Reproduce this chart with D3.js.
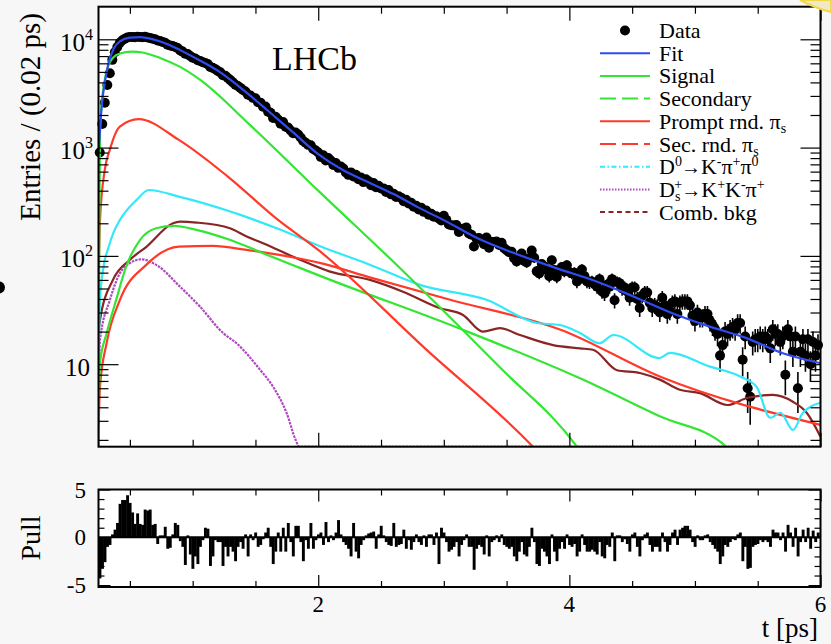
<!DOCTYPE html>
<html lang="en">

<head>
  <meta charset="UTF-8" />
  <title>LHCb - decay time fit</title>
  <script src="https://d3js.org/d3.v7.min.js"></script>
  <style>
    body {
      margin: 0;
      background: #f7f7f7;
    }

    svg {
      display: block;
      font-family: "Liberation Serif", "DejaVu Serif", serif;
    }
  </style>
</head>

<body>
  <svg id="chart" width="831" height="644"></svg>

  <script>
    // Histogram binning (t in ps)
    const tMin = 0.25, tMax = 6.0, binWidth = 0.02;

    // Data entries per 0.02 ps bin, first bin centre 0.26 ps
    const dataCounts = [
      900, 1650, 2590, 3790, 4860, 6460, 7600, 8500, 9300, 9800,
      10100, 10400, 10500, 10500, 10450, 10550, 10500, 10450, 10550, 10400,
      10300, 10100, 10000, 9750, 9650, 9450, 9300, 8900, 8750, 8650,
      8500, 8300, 7900, 7700, 7350, 7300, 7000, 6750, 6650, 6400,
      6300, 6150, 6050, 5900, 5550, 5450, 5300, 5100, 4950, 4650,
      4600, 4400, 4200, 4000, 3800, 3700, 3560, 3400, 3300, 3080,
      3030, 2880, 2850, 2620, 2600, 2380, 2400, 2150, 2100, 1880,
      1930, 1820, 1660, 1720, 1560, 1530, 1440, 1360, 1380, 1320,
      1240, 1150, 1110, 1060, 1050, 970, 940, 900, 820, 850,
      760, 800, 760, 690, 720, 650, 670, 640, 590, 560,
      590, 540, 560, 510, 530, 480, 510, 490, 450, 470,
      430, 445, 420, 420, 390, 405, 370, 375, 350, 355,
      345, 320, 330, 305, 310, 285, 290, 268, 278, 255,
      262, 240, 245, 230, 232, 222, 212,
      235, 215, 195, 192, 191, 193, 166, 177, 179, 183,
      161, 157, 122, 145, 146, 140, 128, 148, 119, 134,
      134, 136, 126, 132, 118, 113, 108, 109, 95, 89,
      97, 105, 90, 87, 95, 112, 96, 72, 69, 84,
      80, 74, 65, 91, 74, 64, 74, 79, 72, 82,
      71, 69, 70, 58, 61, 75, 65, 58, 57, 58,
      55, 52, 61, 47, 45, 54, 52, 61, 39, 57,
      56, 50, 51, 47, 41, 51, 51, 40, 33, 43,
      46, 46, 37, 33, 35, 34, 30, 41, 35, 29,
      31, 37, 38, 29, 37, 38, 38, 38, 35, 28,
      25, 30, 27, 27, 29, 29, 25, 23, 21, 19,
      12, 15, 20, 19, 21, 22, 21, 24, 24, 11,
      18, 6, 5, 16, 17, 17, 18, 17, 18, 17,
      14, 21, 19, 19, 16, 18, 8, 21, 18, 13,
      18, 6, 13, 17, 12, 17, 10, 16, 12, 15
    ];

    // Pull per bin (same binning)
    const pullValues = [
      -4.3, -3.3, -2.6, -1.0, -0.8, 0.3, 0.8, 1.5, 3.5, 3.9,
      3.9, 4.4, 3.6, 2.6, 1.4, 2.5, 1.4, 1.3, 2.9, 2.8,
      2.9, 1.3, 1.4, -0.7, 0.2, 0.2, 1.1, -1.2, -1.1, 0.3,
      1.5, 1.3, -0.4, -1.0, -2.9, 0.2, -1.8, -3.3, -2.0, -2.8,
      -1.0, -0.3, 1.0, 0.9, -3.0, -2.0, -0.3, -0.5, -0.5, -3.0,
      -1.0, -2.0, -1.0, -1.5, -2.5, -1.0, -0.5, -1.2, 0.3, -2.0,
      0.3, -0.3, 0.5, -1.0, -0.8, -0.2, 0.5, 1.0, -1.0, -2.8,
      -1.5, 0.5, -1.5, 1.0, -1.5, 1.5, -0.5, -2.0, 1.2, 1.2,
      -0.5, -2.5, -0.3, -1.2, 1.5, -1.2, -0.3, 0.3,
      0.5, -0.8, 1.6, -0.5,
      0.2, -0.3, 0.5, 1.8, 0.3, -0.5, -0.8, -1.2, -2.0, 1.5,
      -1.5, -2.2, -0.8, -0.3, 0.2, 0.4, 0.5, 0.6, -1.2, 0.3,
      1.2, 0.2, -0.5, -0.8, -0.9, 1.5, -1.0, -0.8, -0.7, 0.8,
      -1.2, -0.3, -1.3, -0.5, 0.3, -0.5, -0.8, 0.2, -1.0, 0.3,
      0.3, -0.8, 0.5, -2.8, 1.0, 0.5, -0.5, -1.5, -1.3, -1.0,
      -0.5, -2.0, -0.8, -0.3, 0.3, -1.0, -1.0, -3.4, -1.2, -0.8,
      -1.0, -1.8, 0.2, -2.0, -0.5, -0.3, 0.2, -0.5, 0.3, -0.8,
      -1.0, -1.2, -1.0, -2.0, -2.5, -1.5, -0.5, -1.8, -2.0, -1.0,
      1.0, -0.5, -2.8, -3.0, -1.2, -1.5, -2.0, -2.8, 0.3, -1.5,
      -2.5, -1.2,
      -0.5, -1.2, 0.3, -0.8,
      -1.0, -0.7, -2.0, -1.5, 0.3, -0.8, -1.5, -1.5, -1.3, -1.5,
      -1.8, -0.5, -2.0, -2.2, -0.8, -1.0, 0.5, -2.5, 0.2, 0.2,
      -0.5, -0.2, -0.7, -1.5, 0.3, 0.5, -1.0, -2.0, -0.3, 0.3,
      0.5, -0.8, -1.5, -1.0, -1.0, -1.5, 0.5, -0.5, -1.5, -0.8,
      0.5, 0.8, -0.8, 0.8, 1.0, 1.2, 1.2, 0.8, -0.5, -1.0,
      0.2, -0.3, -0.3, 0.2, 0.3, -0.5, -0.8, -1.2, -1.5, -2.8,
      -2.0, -0.8, -1.0, -0.5, -0.2, -0.3, 0.3, 0.5, -2.5, -1.0,
      -3.3, -3.2, -1.0, -0.8, -0.7, -0.3, -0.5, -0.3, -0.5, -1.0,
      0.8, 0.5, 0.5, -0.3, 0.5, -1.5, 1.3, 0.5, -1.0, 1.0,
      -2.0, -0.5, 0.8, -0.5, 1.0, -1.2, 0.7, -0.5,
      0.5
    ];

    // Fit model and its components, read at knots (t [ps], entries)
    const fitTimes = [0.25, 0.26, 0.27, 0.28, 0.30, 0.33, 0.37, 0.42, 0.50, 0.58, 0.70, 0.80, 0.90, 1.0, 1.2, 1.4, 1.6, 1.8, 2.0, 2.2, 2.4, 2.6, 2.8, 3.0, 3.3, 3.6, 3.9, 4.2, 4.5, 4.8, 5.1, 5.4, 5.7, 6.0];
    const fitValues = [891, 1349, 1995, 2692, 3981, 6026, 8128, 9550, 10350, 10470, 9890, 9016, 7943, 6918, 5129, 3428, 2188, 1380, 871, 617, 479, 372, 279, 214, 140, 102, 76.7, 58.9, 42.7, 30.2, 22.6, 17.6, 12.6, 10.2];

    const signalTimes = [0.25, 0.256, 0.262, 0.28, 0.30, 0.33, 0.366, 0.42, 0.517, 0.60, 0.74, 0.90, 1.06, 1.46, 2.01, 2.65, 3.45, 4.06, 4.2];
    const signalValues = [1.2, 150, 1370, 2900, 4220, 5800, 6760, 7400, 7690, 7550, 6730, 5560, 4220, 1603, 390, 77.4, 9.25, 1.73, 1.0];

    const secondaryTimes = [0.25, 0.262, 0.315, 0.39, 0.47, 0.58, 0.71, 0.85, 1.03, 1.30, 1.56, 1.83, 2.05, 3.15, 4.085, 4.72, 5.25, 5.4];
    const secondaryValues = [3, 10.3, 19.3, 39, 79.5, 140, 180, 189, 174, 140, 106, 79.5, 63, 20.8, 7.4, 3.3, 1.73, 1.0];

    const promptTimes = [0.25, 0.262, 0.30, 0.34, 0.42, 0.57, 0.89, 1.28, 1.68, 2.0, 2.85, 3.71, 3.9];
    const promptValues = [60, 215, 622, 953, 1563, 1828, 1178, 540, 215, 113.5, 14, 1.73, 1.0];

    const secRndTimes = [0.25, 0.262, 0.315, 0.42, 0.63, 0.89, 1.16, 1.43, 1.69, 2.02, 2.41, 3.05, 3.93, 4.73, 6.0];
    const secRndValues = [2.5, 6.2, 15.7, 39, 82.6, 122, 123.5, 113.5, 102, 85.7, 63.4, 39.3, 20.8, 7.6, 2.75];

    const d0Times = [0.25, 0.262, 0.29, 0.33, 0.37, 0.42, 0.554, 0.65, 0.89, 1.30, 1.38, 1.70, 2.02, 2.41, 2.81, 3.34, 3.74, 3.925, 4.085, 4.24, 4.35, 4.72, 4.80, 5.12, 5.36, 5.49, 5.60, 5.68, 5.78, 5.86, 6.0];
    const d0Values = [10, 39, 79, 120, 165, 214, 329, 406, 353, 257, 239, 174, 122, 83, 54, 39.3, 24, 23, 19.4, 15.6, 18.6, 11.4, 12.7, 9.5, 7.7, 6.2, 3.2, 3.56, 2.47, 3.56, 4.4];

    const dsTimes = [0.25, 0.262, 0.34, 0.42, 0.50, 0.59, 0.71, 0.899, 1.058, 1.244, 1.35, 1.536, 1.64, 1.75, 1.82, 1.85, 6.0];
    const dsValues = [5, 16.8, 39, 69, 85.7, 93, 82.6, 52, 34, 19.3, 15.6, 8.9, 6.2, 3.5, 2.0, 1.73, 1.73];

    const combTimes = [0.25, 0.262, 0.365, 0.50, 0.634, 0.843, 0.899, 1.032, 1.297, 1.43, 1.56, 1.828, 2.094, 2.412, 2.675, 2.97, 3.153, 3.312, 3.447, 3.606, 3.87, 4.085, 4.188, 4.38, 4.562, 4.72, 4.88, 5.04, 5.26, 5.42, 5.62, 5.78, 5.89, 6.0];
    const combValues = [20, 25.6, 60, 92, 122, 200, 207, 203, 180, 151, 131, 95, 71.6, 60, 46.7, 32.9, 28.5, 20, 21.5, 18.6, 15, 14, 13.6, 8.8, 8.3, 7.2, 5.8, 5.4, 4.2, 4.9, 5.2, 4.5, 3.56, 2.14];

    // Axis ticks and labels
    const xMajorTicks = [2, 4, 6];
    const xMinorTicks = [0.5, 1, 1.5, 2.5, 3, 3.5, 4.5, 5, 5.5];
    const yMajorTicks = [10, 100, 1000, 10000];
    const yMajorExp = ["", "2", "3", "4"];
    const yMinorTicks = [2, 3, 4, 5, 6, 7, 8, 9, 20, 30, 40, 50, 60, 70, 80, 90, 200, 300, 400, 500, 600, 700, 800, 900, 2000, 3000, 4000, 5000, 6000, 7000, 8000, 9000];
    const pullMajorTicks = [-5, 0, 5];
    const pullMinorTicks = [-4, -3, -2, -1, 1, 2, 3, 4];

    const colors = {
      fit: "#2f4cf0",
      green: "#33e633",
      red: "#ff3a2a",
      cyan: "#33e8f8",
      magenta: "#b048c0",
      brown: "#8b2525"
    };

    // Legend entries: text pieces (sup / sub)
    const legendEntries = [
      { kind: "marker", parts: [{ t: "Data" }] },
      { kind: "line", color: colors.fit, dash: null, parts: [{ t: "Fit" }] },
      { kind: "line", color: colors.green, dash: null, parts: [{ t: "Signal" }] },
      { kind: "line", color: colors.green, dash: "16,6", parts: [{ t: "Secondary" }] },
      { kind: "line", color: colors.red, dash: null, parts: [{ t: "Prompt rnd. π" }, { t: "s", sub: true }] },
      { kind: "line", color: colors.red, dash: "16,6", parts: [{ t: "Sec. rnd. π" }, { t: "s", sub: true }] },
      { kind: "line", color: colors.cyan, dash: "5,2.5,1.5,2.5", parts: [{ t: "D" }, { t: "0", sup: true }, { t: "→", arrow: true }, { t: "K" }, { t: "-", sup: true }, { t: "π" }, { t: "+", sup: true }, { t: "π" }, { t: "0", sup: true }] },
      { kind: "line", color: colors.magenta, dash: "1.5,1.5", parts: [{ t: "D" }, { t: "s", sub: true }, { t: "+", sup: true, back: 6 }, { t: "→", arrow: true }, { t: "K" }, { t: "+", sup: true }, { t: "K" }, { t: "-", sup: true }, { t: "π" }, { t: "+", sup: true }] },
      { kind: "line", color: colors.brown, dash: "5,3.5", parts: [{ t: "Comb. bkg" }] }
    ];

    // Layout
    const plotL = 98.5, plotR = 820.5;
    const topT = 6.7, topB = 446.7;
    const pullT = 489.5, pullB = 587;

    const x = d3.scaleLinear().domain([tMin, tMax]).range([plotL, plotR]);
    const y = d3.scaleLog().domain([1.73, 20000]).range([topB, topT]);
    const yPull = d3.scaleLinear().domain([-5.2, 5]).range([pullB, pullT]);

    const svg = d3.select("#chart");

    // panel backgrounds
    svg.append("rect").attr("x", plotL).attr("y", topT).attr("width", plotR - plotL).attr("height", topB - topT).attr("fill", "#fff");
    svg.append("rect").attr("x", plotL).attr("y", pullT).attr("width", plotR - plotL).attr("height", pullB - pullT).attr("fill", "#fff");

    const defs = svg.append("defs");
    defs.append("clipPath").attr("id", "clipTop")
      .append("rect").attr("x", plotL).attr("y", topT).attr("width", plotR - plotL).attr("height", topB - topT);
    // markers are only cut at the top and bottom of the frame
    defs.append("clipPath").attr("id", "clipData")
      .append("rect").attr("x", plotL - 10).attr("y", topT).attr("width", plotR - plotL + 20).attr("height", topB - topT);
    defs.append("clipPath").attr("id", "clipPull")
      .append("rect").attr("x", plotL).attr("y", pullT).attr("width", plotR - plotL).attr("height", pullB - pullT);

    const bins = dataCounts.map((n, i) => ({ t: tMin + binWidth * (i + 0.5), n: n, pull: pullValues[i] }));

    // Data points with error bars
    const dataG = svg.append("g").attr("clip-path", "url(#clipData)");
    dataG.selectAll("line.err")
      .data(bins)
      .join("line")
      .attr("class", "err")
      .attr("x1", d => x(d.t))
      .attr("x2", d => x(d.t))
      .attr("y1", d => y(Math.max(d.n - Math.sqrt(d.n), 1)))
      .attr("y2", d => y(d.n + Math.sqrt(d.n)))
      .attr("stroke", "#000")
      .attr("stroke-width", 1.6);
    dataG.selectAll("circle")
      .data(bins)
      .join("circle")
      .attr("cx", d => x(d.t))
      .attr("cy", d => y(d.n))
      .attr("r", 5)
      .attr("fill", "#000");

    // Component curves
    const line = d3.line()
      .x(d => x(d[0]))
      .y(d => y(d[1]))
      .curve(d3.curveMonotoneX);

    const curves = [
      { times: dsTimes, values: dsValues, color: colors.magenta, dash: "2.5,1" },
      { times: combTimes, values: combValues, color: colors.brown },
      { times: secRndTimes, values: secRndValues, color: colors.red },
      { times: secondaryTimes, values: secondaryValues, color: colors.green },
      { times: d0Times, values: d0Values, color: colors.cyan },
      { times: promptTimes, values: promptValues, color: colors.red },
      { times: signalTimes, values: signalValues, color: colors.green },
      { times: fitTimes, values: fitValues, color: colors.fit }
    ];

    const curveG = svg.append("g").attr("clip-path", "url(#clipTop)");
    curves.forEach(c => {
      curveG.append("path")
        .datum(c.times.map((t, i) => [t, c.values[i]]))
        .attr("fill", "none")
        .attr("stroke", c.color)
        .attr("stroke-width", 2.2)
        .attr("stroke-dasharray", c.dash || null)
        .attr("d", line);
    });

    // Pull histogram
    const pullG = svg.append("g").attr("clip-path", "url(#clipPull)");
    const barW = x(tMin + binWidth) - x(tMin);
    pullG.selectAll("rect")
      .data(bins)
      .join("rect")
      .attr("x", d => x(d.t) - barW / 2)
      .attr("width", barW + 0.4)
      .attr("y", d => Math.min(yPull(0), yPull(d.pull)))
      .attr("height", d => Math.abs(yPull(d.pull) - yPull(0)))
      .attr("fill", "#000");
    pullG.append("line")
      .attr("x1", plotL).attr("x2", plotR)
      .attr("y1", yPull(0)).attr("y2", yPull(0))
      .attr("stroke", "#000").attr("stroke-width", 2);

    // Ticks
    function drawTicks(axisFn, scale, values, size, transform) {
      const g = svg.append("g").attr("transform", transform)
        .call(axisFn(scale).tickValues(values).tickSize(size).tickFormat(""));
      g.select(".domain").remove();
      g.selectAll("text").remove();
      g.selectAll("line").attr("stroke", "#000").attr("stroke-width", 1.2);
    }

    drawTicks(d3.axisBottom, x, xMinorTicks, -7, `translate(0,${topB})`);
    drawTicks(d3.axisBottom, x, xMajorTicks, -14, `translate(0,${topB})`);
    drawTicks(d3.axisTop, x, xMinorTicks, -7, `translate(0,${topT})`);
    drawTicks(d3.axisTop, x, xMajorTicks, -14, `translate(0,${topT})`);
    drawTicks(d3.axisLeft, y, yMinorTicks, -10, `translate(${plotL},0)`);
    drawTicks(d3.axisLeft, y, yMajorTicks, -20, `translate(${plotL},0)`);
    drawTicks(d3.axisRight, y, yMinorTicks, -10, `translate(${plotR},0)`);
    drawTicks(d3.axisRight, y, yMajorTicks, -20, `translate(${plotR},0)`);

    drawTicks(d3.axisBottom, x, xMinorTicks, -6, `translate(0,${pullB})`);
    drawTicks(d3.axisBottom, x, xMajorTicks, -12, `translate(0,${pullB})`);
    drawTicks(d3.axisTop, x, xMinorTicks, -6, `translate(0,${pullT})`);
    drawTicks(d3.axisTop, x, xMajorTicks, -12, `translate(0,${pullT})`);
    drawTicks(d3.axisLeft, yPull, pullMinorTicks, -6, `translate(${plotL},0)`);
    drawTicks(d3.axisLeft, yPull, pullMajorTicks, -12, `translate(${plotL},0)`);
    drawTicks(d3.axisRight, yPull, pullMinorTicks, -6, `translate(${plotR},0)`);
    drawTicks(d3.axisRight, yPull, pullMajorTicks, -12, `translate(${plotR},0)`);

    // Frames
    [[topT, topB], [pullT, pullB]].forEach(([t, b]) => {
      svg.append("rect")
        .attr("x", plotL).attr("y", t)
        .attr("width", plotR - plotL).attr("height", b - t)
        .attr("fill", "none").attr("stroke", "#000").attr("stroke-width", 2);
    });

    // Tick labels
    yMajorTicks.forEach((v, i) => {
      const txt = svg.append("text")
        .attr("y", y(v) + 11.5)
        .attr("font-size", 25)
        .attr("text-anchor", "end");
      if (yMajorExp[i] === "") {
        txt.attr("x", 90).text("10");
      } else {
        txt.attr("x", 93);
        txt.append("tspan").text("10");
        txt.append("tspan").attr("font-size", 16).attr("dy", -11).text(yMajorExp[i]);
      }
    });

    svg.selectAll("text.pl")
      .data(pullMajorTicks)
      .join("text")
      .attr("class", "pl")
      .attr("x", 86)
      .attr("y", d => yPull(d) + 8)
      .attr("font-size", 23)
      .attr("text-anchor", "end")
      .text(d => d);

    svg.selectAll("text.xl")
      .data(xMajorTicks)
      .join("text")
      .attr("class", "xl")
      .attr("x", d => x(d))
      .attr("y", 612)
      .attr("font-size", 23)
      .attr("text-anchor", "middle")
      .text(d => d);

    // Axis titles
    svg.append("text")
      .attr("transform", "translate(40,13) rotate(-90)")
      .attr("text-anchor", "end")
      .attr("font-size", 29)
      .text("Entries / (0.02 ps)");

    svg.append("text")
      .attr("transform", "translate(40,538) rotate(-90)")
      .attr("text-anchor", "middle")
      .attr("font-size", 28)
      .text("Pull");

    svg.append("text")
      .attr("x", 818).attr("y", 637)
      .attr("text-anchor", "end")
      .attr("font-size", 27)
      .text("t [ps]");

    svg.append("text")
      .attr("x", 272).attr("y", 70)
      .attr("font-size", 34)
      .text("LHCb");

    // Legend
    const legG = svg.append("g");
    legendEntries.forEach((e, k) => {
      const ly = 30.5 + 22.7 * k;
      if (e.kind === "marker") {
        legG.append("circle").attr("cx", 625).attr("cy", ly).attr("r", 5).attr("fill", "#000");
      } else {
        legG.append("line")
          .attr("x1", 600).attr("x2", 650).attr("y1", ly).attr("y2", ly)
          .attr("stroke", e.color).attr("stroke-width", 2)
          .attr("stroke-dasharray", e.dash);
      }
      const txt = legG.append("text").attr("x", 659).attr("y", ly + 7.5).attr("font-size", 22);
      let shift = 0;
      e.parts.forEach(p => {
        const target = p.sup ? -8 : (p.sub ? 4 : 0);
        const ts = txt.append("tspan").attr("dy", target - shift).text(p.t);
        if (p.sup || p.sub) ts.attr("font-size", 14);
        if (p.back) ts.attr("dx", -p.back);
        if (p.arrow) ts.attr("dx", -1).attr("font-size", 20);
        shift = target;
      });
    });

    // stray marks on the page: dot at the left edge, note corner at the top right
    svg.append("circle").attr("cx", -1).attr("cy", 287.5).attr("r", 6).attr("fill", "#000");
    svg.append("path")
      .attr("d", "M800,0 Q815,8 831,12 L831,0 Z")
      .attr("fill", "#efe9c8")
      .attr("stroke", "#f0d84a")
      .attr("stroke-width", 2);
  </script>
</body>

</html>
